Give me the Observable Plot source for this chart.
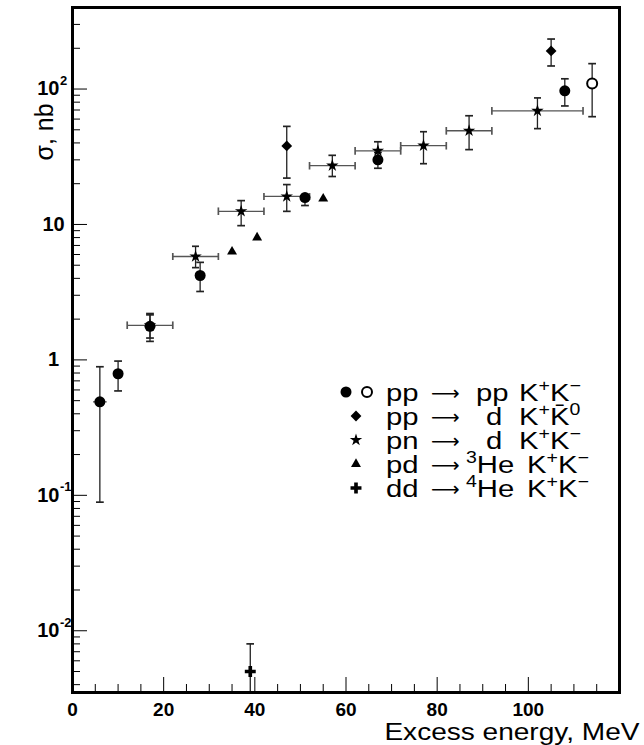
<!DOCTYPE html>
<html><head><meta charset="utf-8">
<script src="https://cdn.jsdelivr.net/npm/d3@7"></script>
<script src="https://cdn.jsdelivr.net/npm/@observablehq/plot@0.6"></script>
<style>body{margin:0;background:#fff} svg{font-family:"Liberation Sans",Arial,sans-serif}</style>
</head><body><div id="chart"></div>
<script>
// ---- data: pp -> pp K+K- (filled)
const ppQ     = [6, 10, 17, 28, 51, 67, 108];
const ppSigma = [0.49, 0.79, 1.77, 4.2, 15.8, 30, 97];
const ppLo    = [0.089, 0.59, 1.37, 3.2, 13.8, 26, 75];
const ppHi    = [0.89, 0.98, 2.15, 5.25, 16.6, 34, 119];
const ppQLo   = [4.5, 10, 17, 28, 51, 67, 108];
const ppQHi   = [7.5, 10, 17, 28, 51, 67, 108];
// pp -> pp K+K- (open)
const ppOpenQ = [114];
const ppOpenSigma = [110];
const ppOpenLo = [62.5];
const ppOpenHi = [154];
// pp -> d K+ K0bar
const pdkQ = [47, 105];
const pdkSigma = [38, 191];
const pdkLo = [22, 148];
const pdkHi = [53, 234];
// pn -> d K+K-
const pnQ     = [17, 27, 37, 47, 57, 67, 77, 87, 102];
const pnSigma = [1.8, 5.8, 12.5, 16.1, 27.2, 35, 38.2, 49.2, 69];
const pnLo    = [1.45, 4.8, 9.8, 12.5, 22.6, 28.7, 28.1, 35.7, 51];
const pnHi    = [2.2, 6.9, 15, 19.7, 32.4, 40.8, 48.4, 63.5, 86];
const pnQLo   = [12, 22, 32, 42, 52, 62, 72, 82, 92];
const pnQHi   = [22, 32, 42, 52, 62, 72, 82, 92, 112];
// pd -> 3He K+K-
const pdQ = [35, 40.5, 55];
const pdSigma = [6.3, 8.0, 15.5];
// dd -> 4He K+K-
const ddQ = [39];
const ddSigma = [0.005];
const ddLo = [0.002];
const ddHi = [0.008];

// ---- axes
const xMajor = [0, 20, 40, 60, 80, 100];
const xTickLabels = ["0", "20", "40", "60", "80", "100"];
const xMinor = d3.range(5, 120, 5).filter(v => v % 20 !== 0);
const yMajor = [0.01, 0.1, 1, 10, 100];
const yTickBase = ["10", "10", "1", "10", "10"];
const yTickExp  = ["-2", "-1", "", "", "2"];
const yMinor = [0.001, 0.01, 0.1, 1, 10, 100].flatMap(d => d3.range(2, 10).map(k => +(k * d).toPrecision(3))).filter(v => v > 0.0035 && v < 400);

// ---- legend
const legendReaction = ["pp", "pp", "pn", "pd", "dd"];
const legendProduct = ["pp", "d", "d", "He", "He"];
const legendProductSup = ["", "", "", "3", "4"];
const legendMeson2 = ["K", "K\u0304", "K", "K", "K"];
const legendMeson2Sup = ["\u2212", "0", "\u2212", "\u2212", "\u2212"];

const W = 644, H = 745, mL = 72, mR = 25, mT = 7, mB = 53;
const fw = W - mL - mR, fh = H - mT - mB;
const idx = n => d3.range(n);
const yExpIdx = idx(5).filter(i => yTickExp[i] !== "");
const yPlainIdx = idx(5).filter(i => yTickExp[i] === "");

const chart = Plot.plot({
  width: W, height: H,
  marginLeft: mL, marginRight: mR, marginTop: mT, marginBottom: mB,
  style: {fontFamily: "Liberation Sans, Arial, sans-serif", background: "white", color: "black", overflow: "visible"},
  x: {domain: [0, 120], axis: null},
  y: {type: "log", domain: [0.0035, 400], axis: null},
  marks: [
    // ticks (inside the frame)
    Plot.ruleX(xMinor, {x: d => d, insetTop: fh - 8, stroke: "black", strokeWidth: 1}),
    Plot.ruleX(xMajor, {x: d => d, insetTop: fh - 15, stroke: "black", strokeWidth: 1}),
    Plot.ruleY(yMinor, {y: d => d, insetRight: fw - 8, stroke: "black", strokeWidth: 1}),
    Plot.ruleY(yMajor, {y: d => d, insetRight: fw - 15, stroke: "black", strokeWidth: 1}),
    // tick labels
    Plot.text(idx(6), {x: i => xMajor[i], text: i => xTickLabels[i], frameAnchor: "bottom", lineAnchor: "top", dy: 10, fontSize: 19, fontWeight: "bold"}),
    Plot.text(yPlainIdx, {y: i => yMajor[i], text: i => yTickBase[i], frameAnchor: "left", dx: -19, textAnchor: "middle", fontSize: 20, fontWeight: "bold"}),
    Plot.text(yExpIdx, {y: i => yMajor[i], text: i => yTickBase[i], frameAnchor: "left", dx: -13, textAnchor: "end", fontSize: 20, fontWeight: "bold"}),
    Plot.text(yExpIdx, {y: i => yMajor[i], text: i => yTickExp[i], frameAnchor: "left", dx: -12.5, dy: -8, textAnchor: "start", fontSize: 13, fontWeight: "bold"}),
    // axis titles
    Plot.text(["Excess energy, MeV"], {frameAnchor: "bottom-right", dx: 20, dy: 47, textAnchor: "end", lineAnchor: "bottom", fontSize: 23}),
    Plot.text(["\u03c3, nb"], {frameAnchor: "top-left", dx: -37, dy: 153, rotate: -90, fontSize: 25}),
    // horizontal error bars
    Plot.link(idx(pnQ.length), {x1: i => pnQLo[i], x2: i => pnQHi[i], y1: i => pnSigma[i], y2: i => pnSigma[i], stroke: "#555", strokeWidth: 1.3, markerStart: "tick", markerEnd: "tick"}),
    Plot.link(idx(1), {x1: i => ppQLo[i], x2: i => ppQHi[i], y1: i => ppSigma[i], y2: i => ppSigma[i], stroke: "#555", strokeWidth: 1.3}),
    // vertical error bars
    Plot.link(idx(pnQ.length), {x1: i => pnQ[i], x2: i => pnQ[i], y1: i => pnLo[i], y2: i => pnHi[i], stroke: "#222", strokeWidth: 1.3, markerStart: "tick", markerEnd: "tick"}),
    Plot.link(idx(ppQ.length), {x1: i => ppQ[i], x2: i => ppQ[i], y1: i => ppLo[i], y2: i => ppHi[i], stroke: "#222", strokeWidth: 1.3, markerStart: "tick", markerEnd: "tick"}),
    Plot.link(idx(1), {x1: i => ppOpenQ[i], x2: i => ppOpenQ[i], y1: i => ppOpenLo[i], y2: i => ppOpenHi[i], stroke: "#222", strokeWidth: 1.3, markerStart: "tick", markerEnd: "tick"}),
    Plot.link(idx(2), {x1: i => pdkQ[i], x2: i => pdkQ[i], y1: i => pdkLo[i], y2: i => pdkHi[i], stroke: "#222", strokeWidth: 1.3, markerStart: "tick", markerEnd: "tick"}),
    Plot.link(idx(1), {x1: i => ddQ[i], x2: i => ddQ[i], y1: i => ddLo[i], y2: i => ddHi[i], stroke: "#222", strokeWidth: 1.3, markerEnd: "tick", clip: true}),
    // markers
    Plot.dot(idx(pnQ.length), {x: i => pnQ[i], y: i => pnSigma[i], symbol: "star", r: 3.9, fill: "black"}),
    Plot.dot(idx(ppQ.length), {x: i => ppQ[i], y: i => ppSigma[i], symbol: "circle", r: 5.5, fill: "black"}),
    Plot.dot(idx(1), {x: i => ppOpenQ[i], y: i => ppOpenSigma[i], symbol: "circle", r: 5, fill: "white", stroke: "black", strokeWidth: 2}),
    Plot.dot(idx(2), {x: i => pdkQ[i], y: i => pdkSigma[i], symbol: "square", rotate: 45, r: 4.3, fill: "black"}),
    Plot.dot(idx(pdQ.length), {x: i => pdQ[i], y: i => pdSigma[i], symbol: "triangle", r: 3.7, fill: "black"}),
    Plot.dot(idx(1), {x: i => ddQ[i], y: i => ddSigma[i], symbol: "cross", r: 4.6, fill: "black"}),
    Plot.frame({stroke: "black", strokeWidth: 3})
  ]
});
document.getElementById("chart").appendChild(chart);

const svg = d3.select(chart);
// the reference's lettering is a little wider than Liberation Sans: widen the x title
svg.selectAll("text").filter(function() { return this.textContent === "Excess energy, MeV"; })
  .attr("transform", function() { return (this.getAttribute("transform") || "") + " scale(1.22,1)"; });

// ---- legend (inside the frame, drawn with d3 on the plot's svg)
const SX = 1.22;
const lg = svg.append("g").attr("font-family", "Liberation Sans, Arial, sans-serif").attr("font-size", 24)
  .attr("fill", "black").attr("text-anchor", "start");
const rowY0 = 392, rowDY = 24;
const sym = (type, size) => d3.symbol(type, size)();
const wtext = (x, y) => lg.append("text").attr("transform", `translate(${x},${y}) scale(${SX},1)`);
legendReaction.forEach((r, i) => {
  const cy = rowY0 + i * rowDY;
  const base = cy + 8.5;
  if (i === 0) {
    lg.append("circle").attr("cx", 346).attr("cy", cy).attr("r", 5.5).attr("fill", "black");
    lg.append("circle").attr("cx", 367).attr("cy", cy).attr("r", 5).attr("fill", "white").attr("stroke", "black").attr("stroke-width", 2);
  } else {
    const g = lg.append("g").attr("transform", `translate(356,${cy})`);
    if (i === 1) g.append("path").attr("d", sym(d3.symbolSquare, Math.PI * 4.3 * 4.3)).attr("transform", "rotate(45)");
    if (i === 2) g.append("path").attr("d", sym(d3.symbolStar, Math.PI * 3.9 * 3.9));
    if (i === 3) g.append("path").attr("d", sym(d3.symbolTriangle, Math.PI * 3.7 * 3.7));
    if (i === 4) g.append("path").attr("d", sym(d3.symbolCross, Math.PI * 4.6 * 4.6));
  }
  wtext(386, base).text(r);
  lg.append("text").attr("x", 431).attr("y", base - 1).attr("font-family", "DejaVu Sans").attr("font-size", 20).text("\u27F6");
  const px = legendProductSup[i] ? 466 : (legendProduct[i] === "pp" ? 476 : 486);
  const pt = wtext(px, base);
  if (legendProductSup[i]) {
    pt.append("tspan").attr("font-size", 16).attr("dy", -10).text(legendProductSup[i]);
    pt.append("tspan").attr("dy", 10).text(legendProduct[i]);
  } else {
    pt.text(legendProduct[i]);
  }
  const kx = legendProductSup[i] ? 527 : 519;
  const kt = wtext(kx, base);
  kt.append("tspan").text("K");
  kt.append("tspan").attr("font-size", 16).attr("dy", -10).text("+");
  kt.append("tspan").attr("dy", 10).text(legendMeson2[i]);
  kt.append("tspan").attr("font-size", 16).attr("dy", -10).text(legendMeson2Sup[i]);
});
</script>
</body></html>
